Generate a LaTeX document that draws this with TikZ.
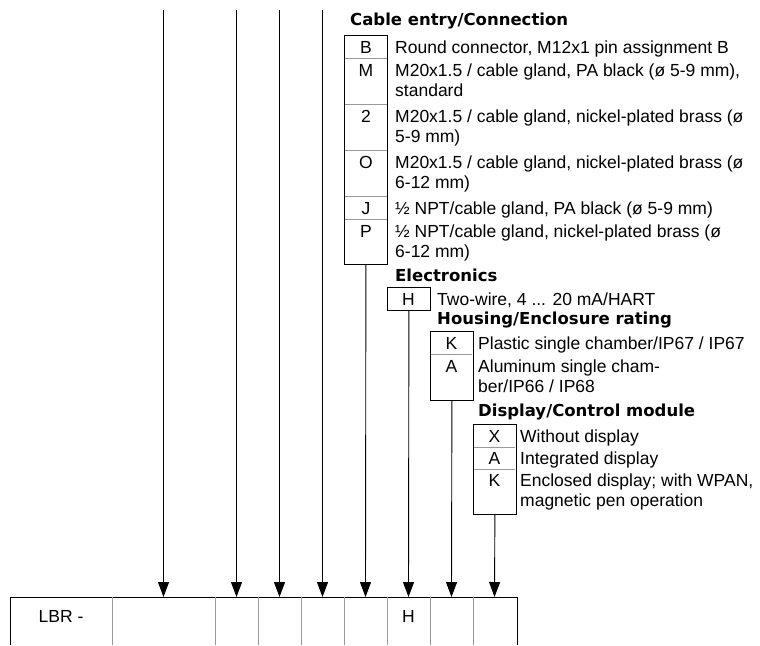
\documentclass[tikz,border=0pt]{standalone}
\usepackage{fontspec}
\setmainfont{Liberation Sans}
\newfontfamily\titlefont{DejaVu Sans}
\usetikzlibrary{arrows.meta}
\newcommand{\twolines}[2]{\begin{tabular}[t]{@{}l@{}}#1\\#2\end{tabular}}
\tikzset{
  body/.style={font=\fontsize{17.5}{20}\selectfont, inner sep=0pt, anchor=base west},
  ttl/.style={font=\titlefont\bfseries\fontsize{16.5}{20}\selectfont, inner sep=0pt, anchor=base west},
  code/.style={font=\fontsize{17.5}{20}\selectfont, inner sep=0pt, anchor=base},
  codebox/.style={draw=black, line width=0.8pt, inner sep=0pt, anchor=north west, minimum width=43pt},
  divider/.style={draw=black!40, line width=0.8pt},
  frame/.style={draw=black, line width=0.8pt},
  arr/.style={line width=0.9pt, -{Triangle[width=11pt,length=15pt]}},
}
\begin{document}
\begin{tikzpicture}[x=1pt,y=-1pt]
\useasboundingbox (0,0) rectangle (760,645);

% ---------- bottom order-code row ----------
\draw[frame] (10,645) -- (10,597) -- (517,597) -- (517,645);
\foreach \x in {112,215,258,301,344,387,430,473} \draw[divider] (\x,597) -- (\x,645);
\node[code] (lbr) at (61,622) {LBR -};
\node[code] (hcell) at (408.5,622) {H};
\coordinate (c2) at (163.5,597);
\coordinate (c3) at (236.5,597);
\coordinate (c4) at (279.5,597);
\coordinate (c5) at (322.5,597);
\coordinate (c6) at (365.5,597);
\coordinate (c7) at (408.5,597);
\coordinate (c8) at (451.5,597);
\coordinate (c9) at (494.5,597);

% ---------- free top ends ----------
\coordinate (t2) at (163.5,10);
\coordinate (t3) at (236.5,10);
\coordinate (t4) at (279.5,10);
\coordinate (t5) at (322.5,10);
\draw[arr] (t2) -- (c2);
\draw[arr] (t3) -- (c3);
\draw[arr] (t4) -- (c4);
\draw[arr] (t5) -- (c5);

% ---------- Cable entry / Connection ----------
\node[ttl] (cabT) at (350,25) {Cable entry/Connection};
\node[codebox, minimum height=229pt] (cab) at (344,35) {};
\foreach \y in {58,104,150,196,219} \draw[divider] (345,\y) -- (387,\y);
\node[code] (cB) at (366,53.5) {B};
\node[code] (cM) at (366,76.5) {M};
\node[code] (c2c) at (366,122.5) {2};
\node[code] (cO) at (366,168.5) {O};
\node[code] (cJ) at (366,214) {J};
\node[code] (cP) at (366,237) {P};
\node[body] (dB) at (395,53.5) {Round connector, M12x1 pin assignment B};
\node[body] (dM) at (395,76.5) {\twolines{M20x1.5 / cable gland, PA black (ø 5-9 mm),}{standard}};
\node[body] (d2) at (395,122.5) {\twolines{M20x1.5 / cable gland, nickel-plated brass (ø}{5-9 mm)}};
\node[body] (dO) at (395,168.5) {\twolines{M20x1.5 / cable gland, nickel-plated brass (ø}{6-12 mm)}};
\node[body] (dJ) at (395,214) {½ NPT/cable gland, PA black (ø 5-9 mm)};
\node[body] (dP) at (395,237) {\twolines{½ NPT/cable gland, nickel-plated brass (ø}{6-12 mm)}};
\draw[arr] (cab.south) -- (c6);

% ---------- Electronics ----------
\node[ttl] (eleT) at (395,281) {Electronics};
\node[codebox, minimum height=23pt] (ele) at (387,287) {};
\node[code] (eH) at (408.5,305) {H};
\node[body] (dH) at (437,305) {Two-wire, 4 ... 20 mA/HART};
\draw[arr] (ele.south) -- (c7);

% ---------- Housing ----------
\node[ttl] (houT) at (437,324) {Housing/Enclosure rating};
\node[codebox, minimum height=69pt] (hou) at (430,331) {};
\draw[divider] (431,354) -- (472,354);
\node[code] (hK) at (451.5,349) {K};
\node[code] (hA) at (451.5,372) {A};
\node[body] (dK) at (478,349) {Plastic single chamber/IP67 / IP67};
\node[body] (dA) at (478,372) {\twolines{Aluminum single cham-}{ber/IP66 / IP68}};
\draw[arr] (hou.south) -- (c8);

% ---------- Display ----------
\node[ttl] (disT) at (478,416) {Display/Control module};
\node[codebox, minimum height=90pt] (dis) at (473,424) {};
\draw[divider] (474,447) -- (515,447);
\draw[divider] (474,469) -- (515,469);
\node[code] (xX) at (494.5,442) {X};
\node[code] (xA) at (494.5,464) {A};
\node[code] (xK) at (494.5,486) {K};
\node[body] (dX) at (520,442) {Without display};
\node[body] (dXA) at (520,464) {Integrated display};
\node[body] (dXK) at (520,486) {\twolines{Enclosed display; with WPAN,}{magnetic pen operation}};
\draw[arr] (dis.south) -- (c9);
\end{tikzpicture}
\end{document}
